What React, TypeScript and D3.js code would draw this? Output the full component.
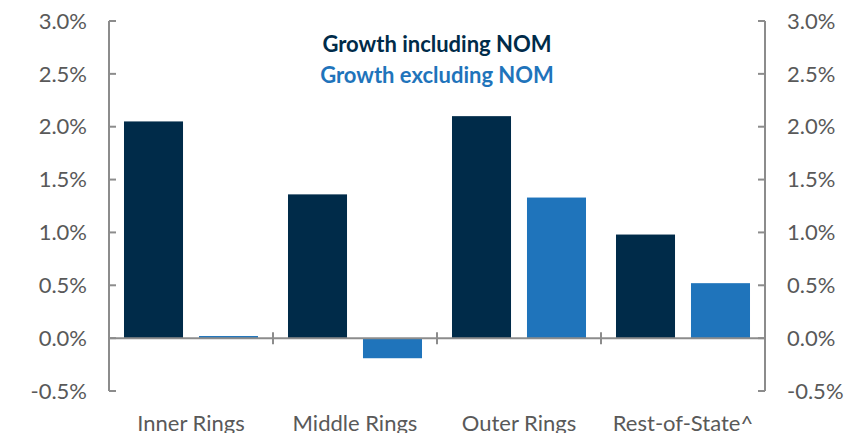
import React from "react";
import * as d3 from "d3";

const categories = ["Inner Rings", "Middle Rings", "Outer Rings", "Rest-of-State^"];
const seriesNames = ["Growth including NOM", "Growth excluding NOM"];
const includingNOM = [2.05, 1.36, 2.1, 0.98];
const excludingNOM = [0.02, -0.19, 1.33, 0.52];
const yTicks = [-0.5, 0, 0.5, 1.0, 1.5, 2.0, 2.5, 3.0];

const W = 868;
const H = 433;
const left = 109;
const right = 765;
const top = 21;
const bottom = 391;
const colors = ["#002b49", "#1f74bb"];
const axisColor = "#8c8c8c";
const textColor = "#595959";
const font = "Lato, 'Open Sans', sans-serif";

export default function App() {
  const x = d3.scaleBand<string>().domain(categories).range([left, right]).padding(0);
  const xs = d3
    .scaleBand<number>()
    .domain([0, 1])
    .range([0, x.bandwidth()])
    .paddingInner(0.213)
    .paddingOuter(0.2);
  const y = d3.scaleLinear().domain([-0.5, 3.0]).range([bottom, top]);
  const series = [includingNOM, excludingNOM];
  const fmt = (v: number) => v.toFixed(1) + "%";

  return (
    <svg
      width={W}
      height={H}
      style={{ position: "absolute", left: 0, top: 0, background: "#fff" }}
    >
      {series.map((vals, si) =>
        categories.map((c, ci) => {
          const v = vals[ci];
          const y0 = y(0);
          const y1 = y(v);
          return (
            <rect
              key={`${si}-${ci}`}
              x={(x(c) as number) + (xs(si) as number)}
              y={Math.min(y0, y1)}
              width={xs.bandwidth()}
              height={Math.abs(y1 - y0)}
              fill={colors[si]}
            />
          );
        })
      )}
      {/* left axis */}
      <line x1={left} x2={left} y1={y(3)} y2={y(-0.5)} stroke={axisColor} strokeWidth={2} />
      {yTicks.map((t) => (
        <g key={"l" + t}>
          <line x1={left} x2={left + 7} y1={y(t)} y2={y(t)} stroke={axisColor} strokeWidth={2} />
          <text
            x={87}
            y={y(t)}
            dy="0.35em"
            textAnchor="end"
            fontFamily={font}
            fontSize={22}
            fill={textColor}
          >
            {fmt(t)}
          </text>
        </g>
      ))}
      {/* right axis */}
      <line x1={right} x2={right} y1={y(3)} y2={y(-0.5)} stroke={axisColor} strokeWidth={2} />
      {yTicks.map((t) => (
        <g key={"r" + t}>
          <line x1={right - 7} x2={right} y1={y(t)} y2={y(t)} stroke={axisColor} strokeWidth={2} />
          <text
            x={787}
            y={y(t)}
            dy="0.35em"
            textAnchor="start"
            fontFamily={font}
            fontSize={22}
            fill={textColor}
          >
            {fmt(t)}
          </text>
        </g>
      ))}
      {/* zero line with category ticks */}
      <line x1={left} x2={right} y1={y(0)} y2={y(0)} stroke={axisColor} strokeWidth={2} />
      {categories.slice(1).map((c) => (
        <line
          key={"ct" + c}
          x1={x(c) as number}
          x2={x(c) as number}
          y1={y(0) - 6}
          y2={y(0) + 6}
          stroke={axisColor}
          strokeWidth={2}
        />
      ))}
      {categories.map((c) => (
        <text
          key={"cl" + c}
          x={(x(c) as number) + x.bandwidth() / 2}
          y={431}
          textAnchor="middle"
          fontFamily={font}
          fontSize={22}
          fill={textColor}
        >
          {c}
        </text>
      ))}
      {/* legend */}
      {seriesNames.map((s, i) => (
        <text
          key={"lg" + s}
          x={437}
          y={44 + i * 31}
          dy="0.35em"
          textAnchor="middle"
          fontFamily={font}
          fontSize={22}
          fontWeight="bold"
          fill={colors[i]}
        >
          {s}
        </text>
      ))}
    </svg>
  );
}
